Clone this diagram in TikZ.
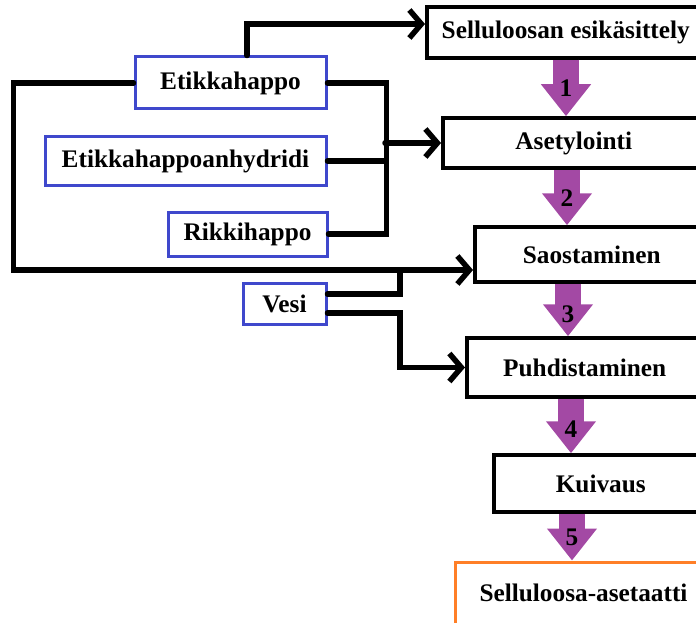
\documentclass[tikz,border=0pt]{standalone}
\usepackage{fontspec}
\setmainfont{Liberation Serif}
\usetikzlibrary{arrows.meta}
\definecolor{procpurple}{HTML}{A349A4}
\definecolor{inblue}{HTML}{3F48CC}
\definecolor{outorange}{HTML}{FF7F27}
\tikzset{
  stepbox/.style={draw=black, line width=3.5pt, anchor=west, fill=white},
  inbox/.style={draw=inblue, line width=3pt, fill=white},
  conn/.style={line width=5.5pt, line cap=round},
  feed/.style={conn, -{Straight Barb[length=12pt,width=28pt]}},
  stage/.style={draw=procpurple, line width=26pt, -{Triangle[length=32pt,width=48pt]}},
  num/.style={text=black}
}
\begin{document}
\begin{tikzpicture}[x=1pt,y=-1pt,font=\bfseries\fontsize{25.3}{30}\selectfont]
\useasboundingbox (0,0) rectangle (696,623);
\clip (0,0) rectangle (696,623);
% process steps
\node[stepbox, minimum width=278, minimum height=51] (sel) at (425,32.5) {Selluloosan esikäsittely};
\node[stepbox, minimum width=262, minimum height=50] (ase) at (441,143) {Asetylointi};
\node[stepbox, minimum width=234, minimum height=55] (sao) at (473,254.5) {Saostaminen};
\node[stepbox, minimum width=236, minimum height=59] (puh) at (465,367.5) {Puhdistaminen};
\node[stepbox, minimum width=214, minimum height=57] (kui) at (492,483.5) {Kuivaus};
\node[stepbox, draw=outorange, line width=3pt, minimum width=256, minimum height=62] (ca) at (454,593) {Selluloosa-asetaatti};
% inputs
\node[inbox, minimum width=191, minimum height=52] (eti) at (230.5,83) {Etikkahappo};
\node[inbox, minimum width=281, minimum height=48] (anh) at (185.5,161) {Etikkahappoanhydridi};
\node[inbox, minimum width=159, minimum height=44] (rik) at (247.5,234) {Rikkihappo};
\node[inbox, minimum width=83, minimum height=41] (ves) at (284.5,303.5) {Vesi};
\coordinate (bus) at (385,143);
\coordinate (vjoin) at (400,270);
% connectors
\draw[feed] ([xshift=16.5pt]eti.north) |- ([yshift=8.5pt]sel.west);
\draw[feed] (eti.west) -- ++(-120,0) |- ([yshift=-15.5pt]sao.west);
\draw[conn] (eti.east) -- ++(59,0) |- (rik.east);
\draw[conn] (anh.east) -- (anh.east -| bus);
\draw[feed] (bus) -- (ase.west);
\draw[conn] ([yshift=9.5pt]ves.east) -| (vjoin);
\draw[feed] ([yshift=-9.5pt]ves.east) -| (vjoin |- puh.west) -- (puh.west);
% stage arrows
\draw[stage] (566,0 |- sel.south) -- (566,0 |- ase.north) node[num,pos=.5] {1};
\draw[stage] (567,0 |- ase.south) -- (567,0 |- sao.north) node[num,pos=.52] {2};
\draw[stage] (568,0 |- sao.south) -- (568,0 |- puh.north) node[num,pos=.58] {3};
\draw[stage] (571,0 |- puh.south) -- (571,0 |- kui.north) node[num,pos=.55] {4};
\draw[stage] (572,0 |- kui.south) -- (572,0 |- ca.north) node[num,pos=.5] {5};
\end{tikzpicture}
\end{document}
